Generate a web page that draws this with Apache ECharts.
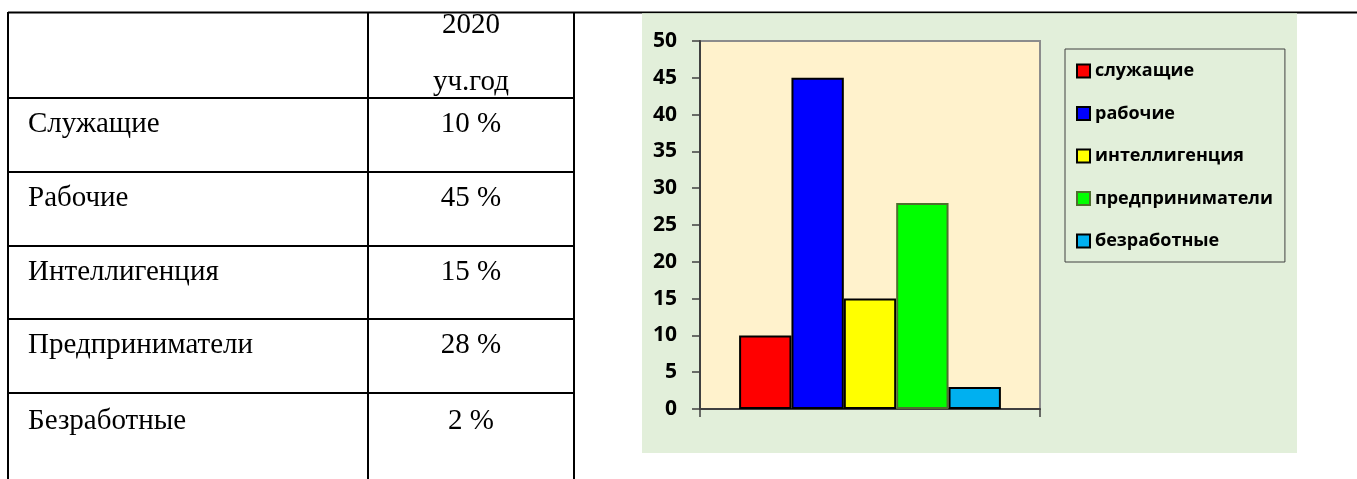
<!DOCTYPE html>
<html>
<head>
<meta charset="utf-8">
<script src="https://cdn.jsdelivr.net/npm/echarts@6/dist/echarts.min.js"></script>
<style>
html,body{margin:0;padding:0;background:#fff;}
#c{width:1357px;height:479px;}
</style>
</head>
<body>
<div id="c"></div>
<script>
// ---- data ----
var tableHeader = ['2020', 'уч.год'];
var tableRows = ['Служащие', 'Рабочие', 'Интеллигенция', 'Предприниматели', 'Безработные'];
var tablePercents = [10, 45, 15, 28, 2];
var seriesNames = ['служащие', 'рабочие', 'интеллигенция', 'предприниматели', 'безработные'];
var barValues = [10, 45, 15, 28, 3];
var barColors = ['#FF0000', '#0000FF', '#FFFF00', '#00FF00', '#00B0F0'];
var barBorders = ['#000000', '#000000', '#000000', '#4F6F2F', '#000000'];
var yTicks = [0, 5, 10, 15, 20, 25, 30, 35, 40, 45, 50];

// ---- layout ----
var tblL = 8, tblDiv = 368, tblR = 574, tblTop = 12, pageBottom = 479;
var rowLines = [98, 172, 246, 319, 393];
var rowTextY = [124, 198, 272, 345, 421];
var serif = 'Liberation Serif, Times New Roman, serif';

var graphics = [];
graphics.push({type:'rect', z:-100, shape:{x:642, y:13, width:655, height:440}, style:{fill:'#E2EFDA'}});
graphics.push({type:'line', z:-50, shape:{x1:tblL, y1:12.5, x2:1357, y2:12.5}, style:{stroke:'#000', lineWidth:2}});
graphics.push({type:'rect', z:-40, shape:{x:642, y:13.2, width:655, height:1}, style:{fill:'#E2EFDA'}});
[tblL, tblDiv, tblR].forEach(function(x){
  graphics.push({type:'line', shape:{x1:x, y1:tblTop, x2:x, y2:pageBottom}, style:{stroke:'#000', lineWidth:2}});
});
rowLines.forEach(function(y){
  graphics.push({type:'line', shape:{x1:tblL-1, y1:y, x2:tblR+1, y2:y}, style:{stroke:'#000', lineWidth:2}});
});
var colC = (tblDiv + tblR) / 2;
function txt(s, x, y, align){
  return {type:'text', style:{text:s, x:x, y:y, textAlign:align, textVerticalAlign:'middle', font:'29px ' + serif, fill:'#000'}};
}
graphics.push(txt(tableHeader[0], colC, 25, 'center'));
graphics.push(txt(tableHeader[1], colC, 82, 'center'));
tableRows.forEach(function(name, i){
  graphics.push(txt(name, 28, rowTextY[i], 'left'));
  graphics.push(txt(tablePercents[i] + ' %', colC, rowTextY[i], 'center'));
});

var series = seriesNames.map(function(n, i){
  return {
    name: n, type: 'bar', data: [barValues[i]],
    barGap: '0%', barCategoryGap: '23%',
    itemStyle: {color: barColors[i], borderColor: barBorders[i], borderWidth: 2},
    emphasis: {disabled: true}
  };
});

var chart = echarts.init(document.getElementById('c'), null, {renderer:'canvas'});
chart.setOption({
  animation: false,
  backgroundColor: '#ffffff',
  grid: {left:700, right:317, top:41, bottom:70, show:true, backgroundColor:'#FFF2CC', borderColor:'#8C8C8C', borderWidth:2},
  legend: {
    orient:'vertical', left:1065, top:49, padding:[13,12,12,11],
    borderColor:'#404040', borderWidth:1, itemWidth:13, itemHeight:13, itemGap:24.5,
    icon:'rect', selectedMode:false,
    textStyle:{fontFamily:'Open Sans', fontWeight:'bold', fontSize:18, color:'#000', padding:[0,0,0,0]},
    data: seriesNames
  },
  xAxis: {
    type:'category', data:[''],
    axisLine:{lineStyle:{color:'#404040', width:2}},
    axisTick:{show:true, length:8, lineStyle:{color:'#404040', width:1.5}},
    axisLabel:{show:false}
  },
  yAxis: {
    type:'value', min:yTicks[0], max:yTicks[yTicks.length-1], interval:5,
    axisLine:{show:true, lineStyle:{color:'#404040', width:2}},
    axisTick:{show:true, length:8, lineStyle:{color:'#404040', width:1.5}},
    splitLine:{show:false},
    axisLabel:{margin:23, fontFamily:'Open Sans', fontWeight:'bold', fontSize:21, color:'#000'}
  },
  series: series,
  graphic: graphics
});
</script>
</body>
</html>
